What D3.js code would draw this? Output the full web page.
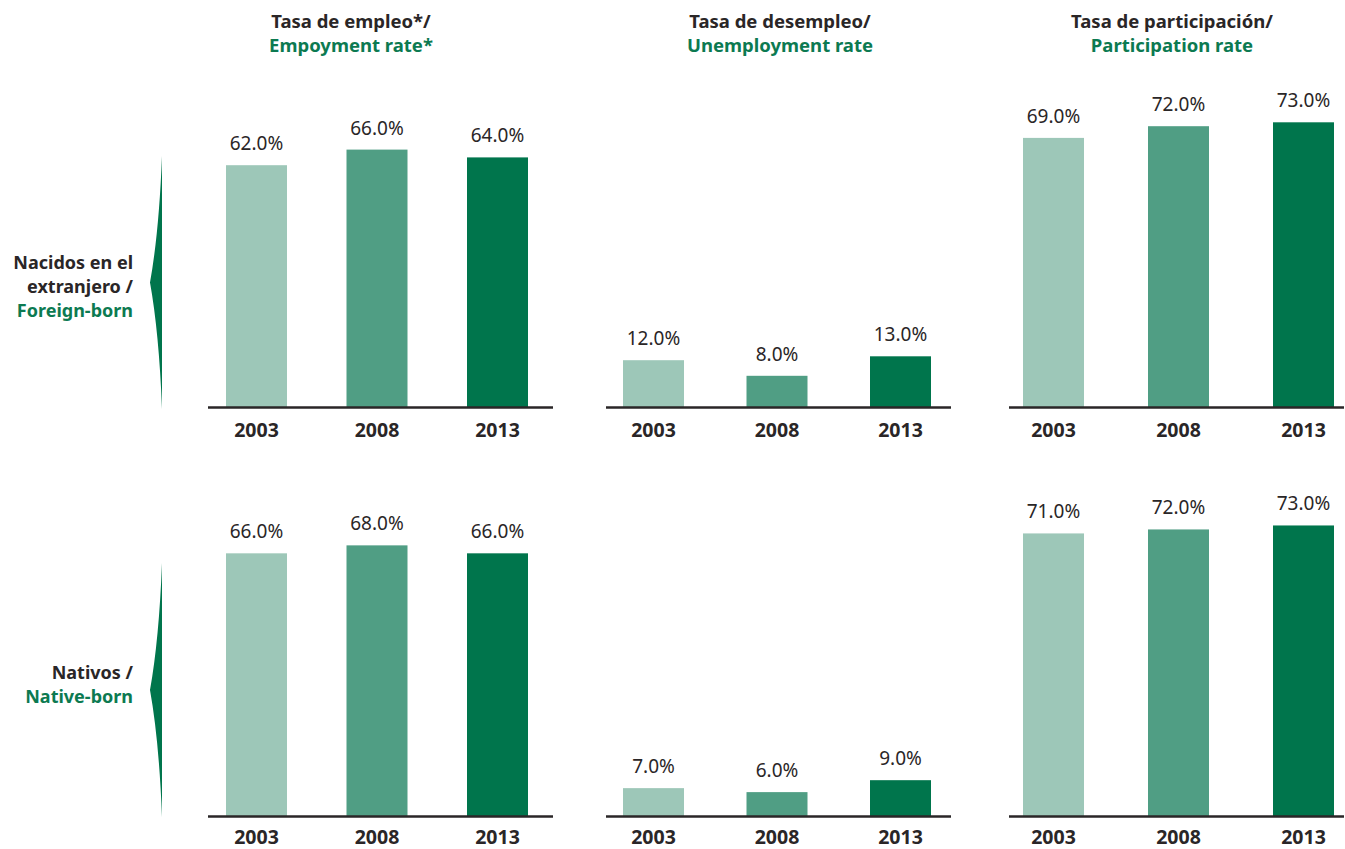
<!DOCTYPE html>
<html>
<head>
<meta charset="utf-8">
<script src="https://cdn.jsdelivr.net/npm/d3@7"></script>
<style>
  html, body { margin: 0; padding: 0; background: #ffffff; }
  svg { display: block; }
  text { font-family: "Noto Sans", "Open Sans", sans-serif; }
</style>
</head>
<body>
<svg id="chart" width="1345" height="849"></svg>
<script>
// Labour-market indicators, foreign-born vs native-born
const years = ["2003", "2008", "2013"];

const employmentForeign = [62, 66, 64];
const employmentNative = [66, 68, 66];
const unemploymentForeign = [12, 8, 13];
const unemploymentNative = [7, 6, 9];
const participationForeign = [69, 72, 73];
const participationNative = [71, 72, 73];

const titlesEs = ["Tasa de empleo*/", "Tasa de desempleo/", "Tasa de participación/"];
const titlesEn = ["Empoyment rate*", "Unemployment rate", "Participation rate"];

const rowLabelsEs = [["Nacidos en el", "extranjero /"], ["Nativos /"]];
const rowLabelsEn = ["Foreign-born", "Native-born"];

const barColors = ["#9dc7b8", "#509e84", "#00754c"];
const textDark = "#2a2627";
const textGreen = "#0c7a51";

const svg = d3.select("#chart");

// Column geometry: axis line extent, bar-centre extent, title centre
const columns = [
  { lineX: [208, 553], centers: [256.5, 497.5], titleX: 351 },
  { lineX: [606, 951], centers: [653.5, 900.5], titleX: 780 },
  { lineX: [1009, 1344], centers: [1053.5, 1303.5], titleX: 1172 }
];

// Row geometry: baseline, scale top, wedge extent, label position
const rows = [
  { base: 407, top: 17, wedge: [156, 409], labelY: 269, yearDy: 30 },
  { base: 816, top: 418, wedge: [563, 817], labelY: 679, yearDy: 27.5 }
];

const panelData = [
  [employmentForeign, unemploymentForeign, participationForeign],
  [employmentNative, unemploymentNative, participationNative]
];

const barWidth = 61;
const fmt = d => d3.format(".1f")(d) + "%";

// Column titles
columns.forEach((c, i) => {
  svg.append("text")
    .attr("x", c.titleX).attr("y", 28)
    .attr("text-anchor", "middle")
    .attr("font-size", 18.5).attr("font-weight", 700)
    .attr("fill", textDark)
    .text(titlesEs[i]);
  svg.append("text")
    .attr("x", c.titleX).attr("y", 52)
    .attr("text-anchor", "middle")
    .attr("font-size", 18.5).attr("font-weight", 700)
    .attr("fill", textGreen)
    .text(titlesEn[i]);
});

rows.forEach((r, ri) => {
  const y = d3.scaleLinear().domain([0, 100]).range([r.base, r.top]);

  // Row wedge marker
  const [w0, w1] = r.wedge;
  const mid = (w0 + w1) / 2;
  const wedge = d3.path();
  wedge.moveTo(162, w0);
  wedge.quadraticCurveTo(159, mid - 50, 150, mid);
  wedge.quadraticCurveTo(159, mid + 50, 162, w1);
  wedge.closePath();
  svg.append("path").attr("d", wedge.toString()).attr("fill", "#00754c");

  // Row labels
  const lines = rowLabelsEs[ri];
  lines.forEach((ln, li) => {
    svg.append("text")
      .attr("x", 133).attr("y", r.labelY + li * 24)
      .attr("text-anchor", "end")
      .attr("font-size", 18).attr("font-weight", 700)
      .attr("fill", textDark)
      .text(ln);
  });
  svg.append("text")
    .attr("x", 133).attr("y", r.labelY + lines.length * 24)
    .attr("text-anchor", "end")
    .attr("font-size", 18).attr("font-weight", 700)
    .attr("fill", textGreen)
    .text(rowLabelsEn[ri]);

  columns.forEach((c, ci) => {
    const values = panelData[ri][ci];
    const x = d3.scalePoint().domain(years).range(c.centers);
    const g = svg.append("g");

    g.selectAll("rect.bar")
      .data(values)
      .join("rect")
      .attr("class", "bar")
      .attr("x", (d, i) => x(years[i]) - barWidth / 2)
      .attr("y", d => y(d))
      .attr("width", barWidth)
      .attr("height", d => r.base - y(d))
      .attr("fill", (d, i) => barColors[i]);

    g.selectAll("text.val")
      .data(values)
      .join("text")
      .attr("class", "val")
      .attr("x", (d, i) => x(years[i]))
      .attr("y", d => y(d) - 15)
      .attr("text-anchor", "middle")
      .attr("font-size", 19)
      .attr("fill", textDark)
      .text(fmt);

    // Baseline
    g.append("line")
      .attr("x1", c.lineX[0]).attr("x2", c.lineX[1])
      .attr("y1", r.base + 0.5).attr("y2", r.base + 0.5)
      .attr("stroke", "#2a2627").attr("stroke-width", 2.5);

    // Year labels
    g.selectAll("text.year")
      .data(years)
      .join("text")
      .attr("class", "year")
      .attr("x", d => x(d))
      .attr("y", r.base + r.yearDy)
      .attr("text-anchor", "middle")
      .attr("font-size", 19.5).attr("font-weight", 700)
      .attr("fill", textDark)
      .text(d => d);
  });
});
</script>
</body>
</html>
